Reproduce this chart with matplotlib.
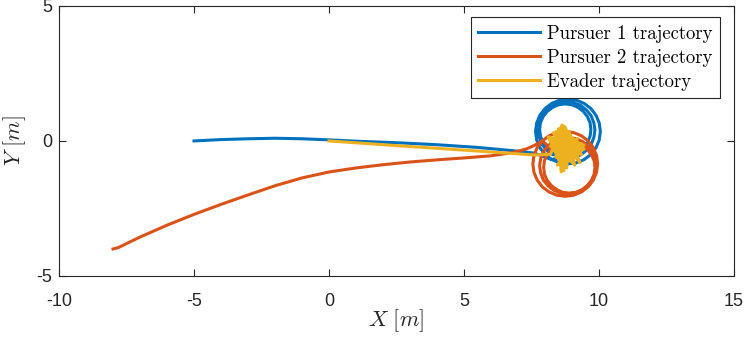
import numpy as np
from matplotlib import pyplot as plt

plt.rcParams['axes.unicode_minus'] = False
plt.rcParams['mathtext.fontset'] = 'cm'

# trajectories (x, y in metres)
p1_x = [-5.0, -4.0, -3.0, -2.0, -1.0, 0.0, 1.0, 2.6, 4.0, 5.5, 6.8, 7.6,
        8.25, 8.54, 8.85, 9.16, 9.45, 9.70, 9.89, 10.01, 10.05, 10.01, 9.89, 9.70, 9.45,
        9.16, 8.85, 8.54, 8.25, 8.00, 7.81, 7.69, 7.65, 7.69, 7.81, 8.00, 8.25,
        8.53, 8.80, 9.07, 9.33, 9.54, 9.71, 9.81, 9.85, 9.81, 9.71, 9.54, 9.33,
        9.07, 8.80, 8.53, 8.28, 8.06, 7.89, 7.79, 7.75, 7.79, 7.89, 8.06, 8.28,
        8.50, 8.75, 9.00, 9.23, 9.42, 9.57, 9.67, 9.70, 9.67, 9.57, 9.42, 9.23,
        9.00, 8.75, 8.50, 8.28, 8.08, 7.93, 7.83, 7.80, 7.83, 7.93, 8.08, 8.28, 8.5]
p1_y = [0.0, 0.05, 0.08, 0.1, 0.08, 0.04, -0.01, -0.07, -0.14, -0.24, -0.36, -0.45,
        -0.69, -0.81, -0.85, -0.81, -0.69, -0.50, -0.25, 0.04, 0.35, 0.66, 0.95, 1.20, 1.39,
        1.51, 1.55, 1.51, 1.39, 1.20, 0.95, 0.66, 0.35, 0.04, -0.25, -0.50, -0.69,
        -0.61, -0.65, -0.61, -0.51, -0.34, -0.13, 0.13, 0.40, 0.67, 0.93, 1.14, 1.31,
        1.41, 1.45, 1.41, 1.31, 1.14, 0.93, 0.67, 0.40, 0.13, -0.13, -0.34, -0.51,
        -0.50, -0.53, -0.50, -0.40, -0.25, -0.06, 0.17, 0.42, 0.67, 0.90, 1.09, 1.24,
        1.34, 1.37, 1.34, 1.24, 1.09, 0.90, 0.67, 0.42, 0.17, -0.06, -0.25, -0.40, -0.5]

p2_x = [-8.0, -7.8, -7.5, -7.0, -6.0, -5.0, -4.0, -3.0, -2.0, -1.0, 0.0, 1.0, 2.0,
        3.0, 4.0, 5.0, 6.0, 6.8, 7.3, 7.6,
        7.90, 8.15, 8.44, 8.75, 9.06, 9.35, 9.60, 9.79, 9.91, 9.95, 9.91, 9.79, 9.60,
        9.35, 9.06, 8.75, 8.44, 8.15, 7.90, 7.71, 7.59, 7.55, 7.59, 7.71, 7.90,
        8.11, 8.33, 8.58, 8.85, 9.12, 9.38, 9.59, 9.76, 9.86, 9.90, 9.86, 9.76, 9.59,
        9.38, 9.12, 8.85, 8.58, 8.33, 8.11, 7.94, 7.84, 7.80, 7.84, 7.94, 8.11,
        8.23, 8.43, 8.65, 8.90, 9.15, 9.38, 9.57, 9.72, 9.82, 9.85, 9.82, 9.72, 9.57,
        9.38, 9.15, 8.90, 8.65, 8.43, 8.23, 8.08, 7.98, 7.95, 7.98, 8.08, 8.23, 8.43, 8.7]
p2_y = [-4.0, -3.95, -3.8, -3.56, -3.12, -2.72, -2.35, -2.0, -1.66, -1.37, -1.15, -1.0, -0.88,
        -0.78, -0.70, -0.63, -0.55, -0.43, -0.3, -0.17,
        0.00, 0.19, 0.31, 0.35, 0.31, 0.19, 0.00, -0.25, -0.54, -0.85, -1.16, -1.45, -1.70,
        -1.89, -2.01, -2.05, -2.01, -1.89, -1.70, -1.45, -1.16, -0.85, -0.54, -0.25, 0.00,
        -0.18, -0.01, 0.09, 0.13, 0.09, -0.01, -0.18, -0.40, -0.65, -0.92, -1.19, -1.45, -1.66,
        -1.83, -1.93, -1.97, -1.93, -1.83, -1.66, -1.45, -1.19, -0.92, -0.65, -0.40, -0.18,
        -0.31, -0.16, -0.06, -0.03, -0.06, -0.16, -0.31, -0.51, -0.73, -0.98, -1.23, -1.46, -1.65,
        -1.80, -1.90, -1.93, -1.90, -1.80, -1.65, -1.46, -1.23, -0.98, -0.73, -0.51, -0.31, -0.16, -0.1]

ev_x = [0.0, 2.6, 5.0, 7.6, 8.2, 8.63, 8.7, 8.12, 9.45, 8.4, 8.75, 9.3, 8.3, 9.2, 8.6,
        8.5, 9.35, 8.2, 8.9, 8.8, 8.35, 9.45, 8.55, 8.7, 9.1, 8.25, 9.35, 8.65, 8.95, 8.6,
        9.0, 8.4, 8.8, 9.2, 8.45, 9.4, 8.7, 8.3, 9.05, 8.75]
ev_y = [0.0, -0.18, -0.34, -0.52, -0.5, 0.59, -1.1, 0.15, -0.15, -0.6, 0.5, -0.8, 0.3, -0.05,
        -1.15, 0.45, -0.5, -0.2, 0.35, -1.0, 0.1, -0.3, -0.8, 0.55, -0.9, 0.0, -0.1, -0.5,
        0.2, -1.05, -0.4, 0.35, -0.7, 0.1, -0.9, -0.25, 0.4, -0.35, -0.65, 0.0]

fig = plt.figure(figsize=(7.47, 3.39), dpi=100)
ax = fig.add_axes([0.079, 0.186, 0.9036, 0.7965])

ax.plot(p1_x, p1_y, color='#0072BD', lw=2.2, label='Pursuer 1 trajectory')
ax.plot(p2_x, p2_y, color='#D95319', lw=2.2, label='Pursuer 2 trajectory')
ax.plot(ev_x, ev_y, color='#EDB120', lw=2.2, label='Evader trajectory')

ax.set_xlim(-10, 15)
ax.set_ylim(-5, 5)
ax.set_xticks([-10, -5, 0, 5, 10, 15])
ax.set_yticks([-5, 0, 5])
ax.tick_params(direction='in', top=True, right=True, length=5, width=0.8,
               colors='#262626', labelsize=13)
ax.tick_params(axis='x', pad=12)
ax.tick_params(axis='y', pad=5)
for lab in ax.get_xticklabels() + ax.get_yticklabels():
    lab.set_family('Liberation Sans')
for s in ax.spines.values():
    s.set_color('#262626')
    s.set_linewidth(0.8)

ax.set_xlabel(r'$X\ [m]$', fontsize=16, color='#262626', labelpad=-2)
ax.set_ylabel(r'$Y\ [m]$', fontsize=16, color='#262626', labelpad=6)

leg = ax.legend(loc='upper right', bbox_to_anchor=(0.979, 0.959), borderaxespad=0,
                prop={'family': 'cmr10', 'size': 13.5}, handlelength=3.3,
                handletextpad=0.35, labelspacing=0.32, borderpad=0.4,
                fancybox=False, framealpha=1)
leg.get_frame().set_edgecolor('#262626')
leg.get_frame().set_linewidth(0.8)

plt.savefig('out.png', dpi=100)
